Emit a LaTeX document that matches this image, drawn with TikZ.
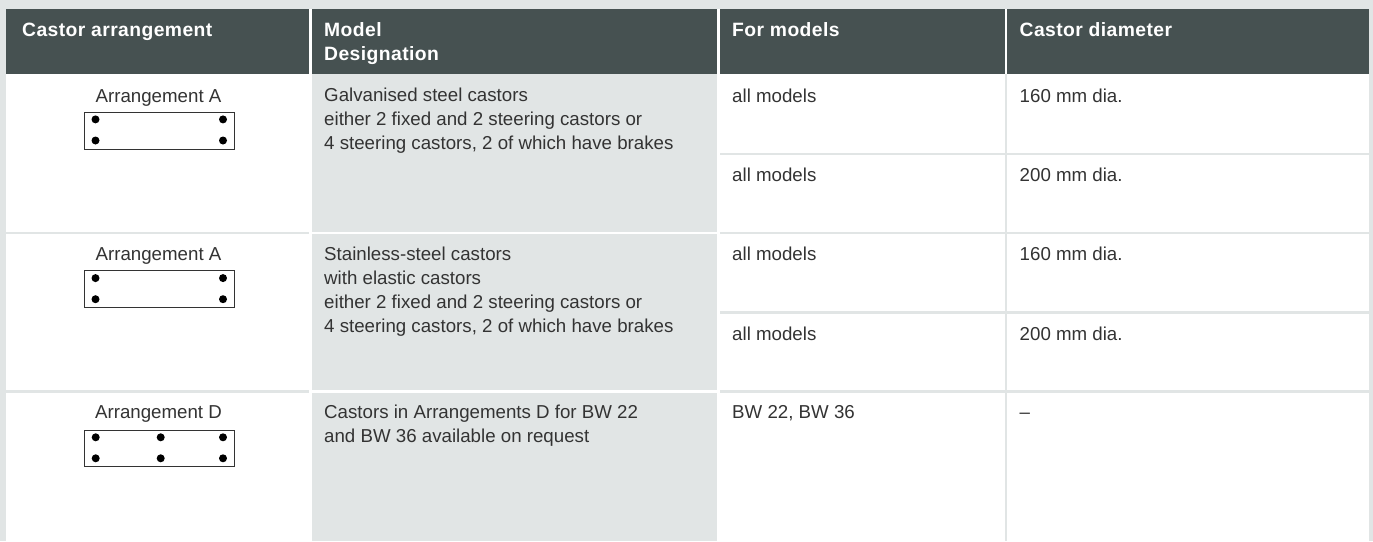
\documentclass[tikz,border=0pt]{standalone}
\usepackage{fontspec}
\setmainfont{Liberation Sans}
\definecolor{bg}{HTML}{E1E5E5}
\definecolor{head}{HTML}{465151}
\definecolor{ink}{HTML}{333333}
\tikzset{
  x=1pt,y=-1pt,
  hd/.style={anchor=base west,inner sep=0pt,text=white,font=\fontsize{19.3}{24}\selectfont\bfseries\addfontfeatures{LetterSpace=2.2},align=left},
  cell/.style={anchor=base west,inner sep=0pt,text=ink,font=\fontsize{18.7}{24}\selectfont,align=left},
  lbl/.style={anchor=base,inner sep=0pt,text=ink,font=\fontsize{18.7}{24}\selectfont},
  plan/.style={draw=black!80,line width=0.9pt,fill=white},
  dot/.style={circle,fill=black,inner sep=0pt,minimum size=8pt}
}
\begin{document}
\begin{tikzpicture}
\useasboundingbox (0,0) rectangle (1373,541);
\fill[bg] (0,0) rectangle (1373,541);
% white sheet for columns 1 and 2, and the gaps
\fill[white] (6,9) rectangle (720,541);
\fill[white] (1004.5,9) rectangle (1007,74);
% header
\fill[head] (6,9) rectangle (309,74);
\fill[head] (311.5,9) rectangle (717,74);
\fill[head] (720,9) rectangle (1004.5,74);
\fill[head] (1007,9) rectangle (1369,74);
% column 1 separators
\fill[bg] (6,231.7) rectangle (309,234);
\fill[bg] (6,390) rectangle (309,393);
% column 2 panels
\fill[bg] (311.5,74) rectangle (717,231.7);
\fill[bg] (311.5,234) rectangle (717,390);
\fill[bg] (311.5,392.7) rectangle (717,541);
% columns 3 and 4
\foreach \a/\b in {74/152.5,155/231.7,234/310.8,313.6/390,393/541}{
  \fill[white] (720,\a) rectangle (1004.5,\b);
  \fill[white] (1007,\a) rectangle (1369,\b);
}
\node[hd] (h1) at (22,36) {Castor arrangement};
\node[hd,anchor=north west] (h2) at (324,22) {Model\\Designation};
\node[hd] (h3) at (732,36) {For models};
\node[hd] (h4) at (1019.5,36) {Castor diameter};
\node[lbl] (a1) at (158.5,102) {Arrangement A};
\node[lbl] (a2) at (158.5,260) {Arrangement A};
\node[lbl] (a3) at (158.5,418.5) {Arrangement D};
\node[cell,anchor=north west] (m1) at (324,88.2) {Galvanised steel castors\\either 2 fixed and 2 steering castors or\\4 steering castors, 2 of which have brakes};
\node[cell,anchor=north west] (m2) at (324,246.3) {Stainless-steel castors\\with elastic castors\\either 2 fixed and 2 steering castors or\\4 steering castors, 2 of which have brakes};
\node[cell,anchor=north west] (m3) at (324,404.8) {Castors in Arrangements D for BW 22\\and BW 36 available on request};
\node[cell] (f1) at (732,102) {all models};
\node[cell] (f2) at (732,181) {all models};
\node[cell] (f3) at (732,260) {all models};
\node[cell] (f4) at (732,340) {all models};
\node[cell] (f5) at (732,418.5) {BW 22, BW 36};
\node[cell] (d1) at (1019.5,102) {160 mm dia.};
\node[cell] (d2) at (1019.5,181) {200 mm dia.};
\node[cell] (d3) at (1019.5,260) {160 mm dia.};
\node[cell] (d4) at (1019.5,340) {200 mm dia.};
\node[cell] (d5) at (1019.5,418.5) {–};
% plans
\foreach \y in {112,270.7}{
  \draw[plan] (84,\y) rectangle (234,\y+37);
  \foreach \px in {95.5,223}{
    \node[dot] at (\px,\y+7.4) {};
    \node[dot] at (\px,\y+28.5) {};
  }
}
\draw[plan] (84,430) rectangle (234,466.7);
\foreach \px in {95.7,160.7,223}{
  \node[dot] at (\px,437.3) {};
  \node[dot] at (\px,458.3) {};
}
\end{tikzpicture}
\end{document}
